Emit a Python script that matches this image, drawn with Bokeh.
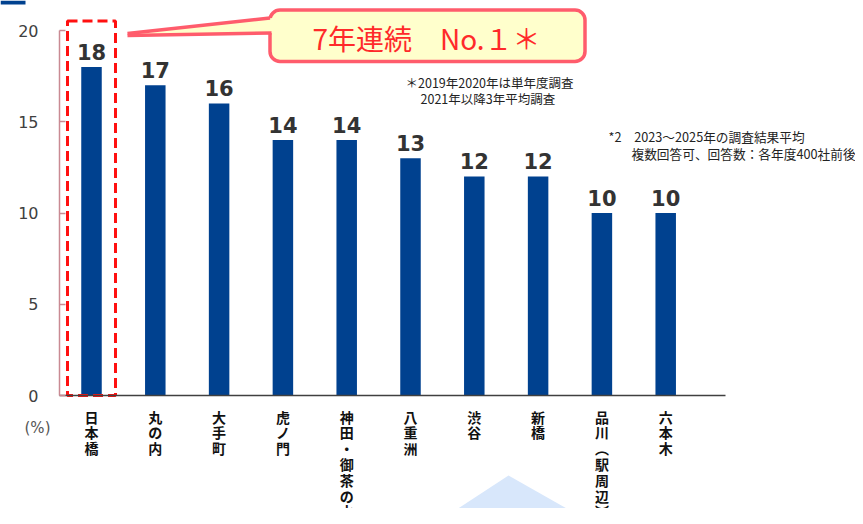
from bokeh.plotting import figure
from bokeh.models import Range1d, LinearAxis, FixedTicker
from bokeh.core.properties import value
from bokeh.embed import file_html
from bokeh.resources import INLINE

# ---- data ----
categories = ["日本橋", "丸の内", "大手町", "虎ノ門", "神田・御茶の水",
              "八重洲", "渋谷", "新橋", "品川（駅周辺）", "六本木"]
shares = [18, 17, 16, 14, 14, 13, 12, 12, 10, 10]
y_ticks = [0, 5, 10, 15, 20]
headline = "7年連続　No.１＊"
note1 = ["＊2019年2020年は単年度調査", "2021年以降3年平均調査"]
note2 = ["*2　2023～2025年の調査結果平均", "複数回答可、回答数：各年度400社前後"]
unit_label = "(%)"

# ---- geometry (canvas pixels -> data units) ----
W, H = 855, 508
PX_X = 63.8      # px per category step
PX_Y = 18.25     # px per percent
X0 = 91.0        # canvas x of first category centre
Y0 = 395.0       # canvas y of 0 %


def dx(px):
    return (px - X0) / PX_X


def dy(py):
    return (Y0 - py) / PX_Y


def vertical(s):
    s = s.replace("（", "︵").replace("）", "︶")
    return "\n".join(list(s))


idx = list(range(len(categories)))

p = figure(width=W, height=H, output_backend="svg", toolbar_location=None,
           x_range=Range1d(dx(0), dx(W)), y_range=Range1d(dy(H), dy(0)),
           x_axis_location=None, y_axis_location=None,
           min_border=0, min_border_left=0, min_border_right=0,
           min_border_top=0, min_border_bottom=0)
p.outline_line_color = None
p.background_fill_color = "white"
p.border_fill_color = "white"
p.xgrid.visible = False
p.ygrid.visible = False

# small corner mark
p.quad(left=[dx(0)], right=[dx(25)], top=[dy(0)], bottom=[dy(4)],
       fill_color="#00418F", line_color=None)

# light-blue arrow shape at the bottom
p.patch(x=[dx(508), dx(424), dx(605)], y=[dy(475), dy(530), dy(530)],
        fill_color="#D8E7FB", line_color=None)

# bars
p.vbar(x=idx, top=shares, width=20.5 / PX_X, fill_color="#00418F",
       line_color=None)

# value labels
p.text(x=idx, y=shares, text=[str(v) for v in shares], text_align="center",
       text_baseline="alphabetic", y_offset=-15.5,
       text_font=value("DejaVu Sans"), text_font_style="bold",
       text_font_size="21px", text_color="#333333")

# dashed highlight around the first bar
half = 24 / PX_X
p.quad(left=[idx[0] - half], right=[idx[0] + half], bottom=[0], top=[dy(20.5)],
       fill_color=None, line_color="#FF1010", line_width=3, line_dash="10 5")

# callout box
p.quad(left=[dx(269.5)], right=[dx(584.5)], top=[dy(9.5)], bottom=[dy(61)],
       fill_color="#FFFFCC", line_color="#FF5C6C", line_width=3.5,
       border_radius=10)
# pointer
p.patch(x=[dx(127), dx(276), dx(276)], y=[dy(34.5), dy(17), dy(32.5)],
        fill_color="#FFFFCC", line_color=None)
p.multi_line(xs=[[dx(127), dx(269.5)], [dx(127), dx(271)]],
             ys=[[dy(33), dy(17.5)], [dy(35), dy(32.5)]],
             line_color="#FF5C6C", line_width=3.5)
p.text(x=[dx(426)], y=[dy(37)], text=[headline], text_align="center",
       text_baseline="middle", text_font=value("Noto Sans CJK JP"),
       text_font_size="28px", text_color="#FF2A2A")

# footnotes
p.text(x=[dx(405), dx(420)], y=[dy(82), dy(98)], text=note1,
       text_align="left", text_baseline="middle",
       text_font=value("Noto Sans CJK JP"), text_font_size="12.5px",
       text_color="#222222")
p.text(x=[dx(608), dx(631)], y=[dy(136), dy(153)], text=note2,
       text_align="left", text_baseline="middle",
       text_font=value("Noto Sans CJK JP"), text_font_size="12.7px",
       text_color="#222222")

# unit label
p.text(x=[dx(37)], y=[dy(427)], text=[unit_label], text_align="center",
       text_baseline="middle", text_font=value("DejaVu Sans"),
       text_font_size="15px", text_color="#555555")

# axes
yaxis = LinearAxis(fixed_location=dx(59), bounds=(0, 20),
                   ticker=FixedTicker(ticks=y_ticks))
yaxis.axis_line_color = "#C98A93"
yaxis.axis_line_width = 1.5
yaxis.major_tick_line_color = "#C98A93"
yaxis.major_tick_line_width = 1.5
yaxis.major_tick_in = 6
yaxis.major_tick_out = 0
yaxis.minor_tick_line_color = None
yaxis.major_label_standoff = 21
yaxis.major_label_text_font = "DejaVu Sans"
yaxis.major_label_text_font_size = "16px"
yaxis.major_label_text_color = "#404040"
p.add_layout(yaxis, "left")

xaxis = LinearAxis(fixed_location=0, bounds=(dx(59), dx(725)),
                   ticker=FixedTicker(ticks=idx))
xaxis.major_label_overrides = {i: vertical(c) for i, c in zip(idx, categories)}
xaxis.axis_line_color = "#404040"
xaxis.axis_line_width = 1.5
xaxis.major_tick_line_color = None
xaxis.minor_tick_line_color = None
xaxis.major_tick_in = 0
xaxis.major_tick_out = 0
xaxis.major_label_standoff = 11
xaxis.major_label_text_font = "Noto Sans CJK JP"
xaxis.major_label_text_font_style = "bold"
xaxis.major_label_text_font_size = "14px"
xaxis.major_label_text_color = "#111111"
xaxis.major_label_text_line_height = 0.79
p.add_layout(xaxis, "below")

open("out.html", "w").write(file_html(p, INLINE))
